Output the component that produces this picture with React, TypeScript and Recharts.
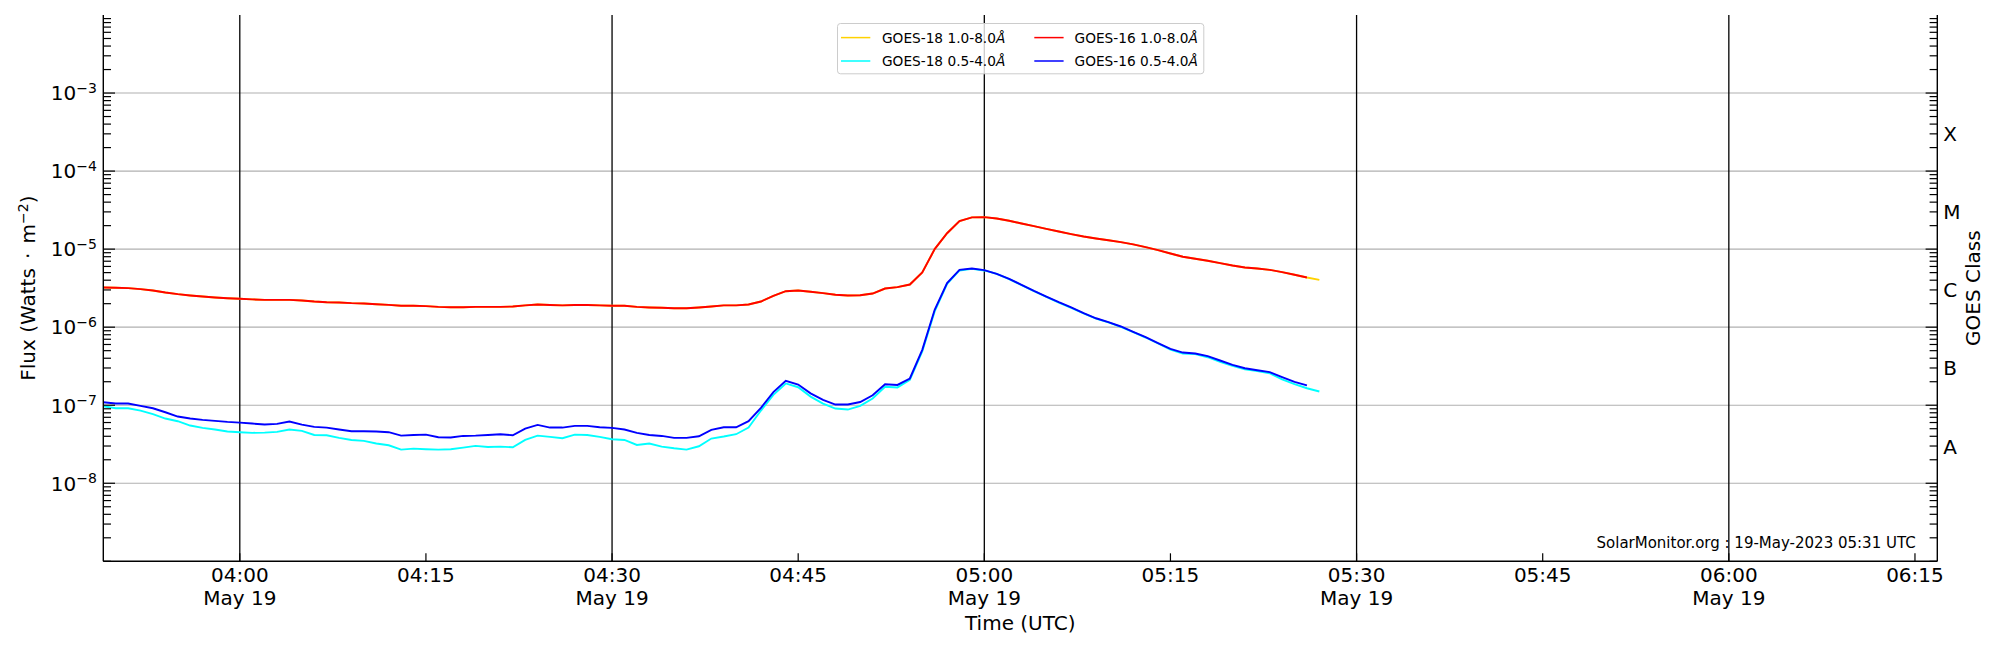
import React from 'react';
import { LineChart, Line, XAxis, YAxis, ReferenceLine, Legend } from 'recharts';

const FONT = '"DejaVu Sans", sans-serif';

// ---------- data (1-minute samples, UTC, 19 May 2023) ----------
const times = [
  '03:49', '03:50', '03:51', '03:52', '03:53', '03:54', '03:55', '03:56', '03:57', '03:58',
  '03:59', '04:00', '04:01', '04:02', '04:03', '04:04', '04:05', '04:06', '04:07', '04:08',
  '04:09', '04:10', '04:11', '04:12', '04:13', '04:14', '04:15', '04:16', '04:17', '04:18',
  '04:19', '04:20', '04:21', '04:22', '04:23', '04:24', '04:25', '04:26', '04:27', '04:28',
  '04:29', '04:30', '04:31', '04:32', '04:33', '04:34', '04:35', '04:36', '04:37', '04:38',
  '04:39', '04:40', '04:41', '04:42', '04:43', '04:44', '04:45', '04:46', '04:47', '04:48',
  '04:49', '04:50', '04:51', '04:52', '04:53', '04:54', '04:55', '04:56', '04:57', '04:58',
  '04:59', '05:00', '05:01', '05:02', '05:03', '05:04', '05:05', '05:06', '05:07', '05:08',
  '05:09', '05:10', '05:11', '05:12', '05:13', '05:14', '05:15', '05:16', '05:17', '05:18',
  '05:19', '05:20', '05:21', '05:22', '05:23', '05:24', '05:25', '05:26', '05:27',
];

const goes18Long = [
  3.23e-6, 3.20e-6, 3.16e-6, 3.07e-6, 2.95e-6, 2.78e-6, 2.65e-6, 2.55e-6, 2.47e-6, 2.40e-6,
  2.35e-6, 2.31e-6, 2.27e-6, 2.24e-6, 2.24e-6, 2.24e-6, 2.20e-6, 2.13e-6, 2.09e-6, 2.07e-6,
  2.03e-6, 2.01e-6, 1.97e-6, 1.93e-6, 1.88e-6, 1.88e-6, 1.86e-6, 1.82e-6, 1.80e-6, 1.80e-6,
  1.82e-6, 1.82e-6, 1.82e-6, 1.84e-6, 1.90e-6, 1.95e-6, 1.92e-6, 1.90e-6, 1.92e-6, 1.92e-6,
  1.90e-6, 1.88e-6, 1.88e-6, 1.82e-6, 1.79e-6, 1.77e-6, 1.75e-6, 1.75e-6, 1.79e-6, 1.84e-6,
  1.90e-6, 1.90e-6, 1.95e-6, 2.13e-6, 2.52e-6, 2.89e-6, 2.95e-6, 2.84e-6, 2.73e-6, 2.60e-6,
  2.55e-6, 2.57e-6, 2.70e-6, 3.13e-6, 3.26e-6, 3.52e-6, 5.02e-6, 1.00e-5, 1.60e-5, 2.29e-5,
  2.55e-5, 2.57e-5, 2.47e-5, 2.31e-5, 2.13e-5, 1.97e-5, 1.82e-5, 1.68e-5, 1.56e-5, 1.45e-5,
  1.37e-5, 1.30e-5, 1.23e-5, 1.15e-5, 1.06e-5, 9.71e-6, 8.80e-6, 7.98e-6, 7.52e-6, 7.09e-6,
  6.62e-6, 6.17e-6, 5.82e-6, 5.65e-6, 5.43e-6, 5.07e-6, 4.69e-6, 4.33e-6, 4.04e-6,
];

const goes18Short = [
  9.71e-8, 9.15e-8, 9.15e-8, 8.54e-8, 7.67e-8, 6.75e-8, 6.24e-8, 5.49e-8, 5.12e-8, 4.88e-8,
  4.60e-8, 4.51e-8, 4.42e-8, 4.46e-8, 4.55e-8, 4.88e-8, 4.69e-8, 4.16e-8, 4.12e-8, 3.81e-8,
  3.59e-8, 3.49e-8, 3.23e-8, 3.07e-8, 2.70e-8, 2.78e-8, 2.73e-8, 2.70e-8, 2.73e-8, 2.86e-8,
  3.01e-8, 2.92e-8, 2.95e-8, 2.89e-8, 3.59e-8, 4.08e-8, 3.93e-8, 3.78e-8, 4.20e-8, 4.16e-8,
  3.93e-8, 3.67e-8, 3.59e-8, 3.10e-8, 3.23e-8, 2.95e-8, 2.81e-8, 2.70e-8, 2.98e-8, 3.74e-8,
  3.97e-8, 4.25e-8, 5.17e-8, 8.54e-8, 1.36e-7, 1.90e-7, 1.70e-7, 1.29e-7, 1.05e-7, 9.06e-8,
  8.80e-8, 9.80e-8, 1.22e-7, 1.72e-7, 1.69e-7, 2.11e-7, 4.88e-7, 1.59e-6, 3.59e-6, 5.33e-6,
  5.59e-6, 5.33e-6, 4.83e-6, 4.12e-6, 3.46e-6, 2.89e-6, 2.45e-6, 2.07e-6, 1.77e-6, 1.50e-6,
  1.29e-6, 1.15e-6, 1.01e-6, 8.62e-7, 7.37e-7, 6.18e-7, 5.17e-7, 4.60e-7, 4.51e-7, 4.12e-7,
  3.59e-7, 3.20e-7, 2.89e-7, 2.73e-7, 2.57e-7, 2.15e-7, 1.86e-7, 1.65e-7, 1.50e-7,
];

const goes16Long = [
  3.23e-6, 3.20e-6, 3.16e-6, 3.07e-6, 2.95e-6, 2.78e-6, 2.65e-6, 2.55e-6, 2.47e-6, 2.40e-6,
  2.35e-6, 2.31e-6, 2.27e-6, 2.24e-6, 2.24e-6, 2.24e-6, 2.20e-6, 2.13e-6, 2.09e-6, 2.07e-6,
  2.03e-6, 2.01e-6, 1.97e-6, 1.93e-6, 1.88e-6, 1.88e-6, 1.86e-6, 1.82e-6, 1.80e-6, 1.80e-6,
  1.82e-6, 1.82e-6, 1.82e-6, 1.84e-6, 1.90e-6, 1.95e-6, 1.92e-6, 1.90e-6, 1.92e-6, 1.92e-6,
  1.90e-6, 1.88e-6, 1.88e-6, 1.82e-6, 1.79e-6, 1.77e-6, 1.75e-6, 1.75e-6, 1.79e-6, 1.84e-6,
  1.90e-6, 1.90e-6, 1.95e-6, 2.13e-6, 2.52e-6, 2.89e-6, 2.95e-6, 2.84e-6, 2.73e-6, 2.60e-6,
  2.55e-6, 2.57e-6, 2.70e-6, 3.13e-6, 3.26e-6, 3.52e-6, 5.02e-6, 1.00e-5, 1.60e-5, 2.29e-5,
  2.55e-5, 2.57e-5, 2.47e-5, 2.31e-5, 2.13e-5, 1.97e-5, 1.82e-5, 1.68e-5, 1.56e-5, 1.45e-5,
  1.37e-5, 1.30e-5, 1.23e-5, 1.15e-5, 1.06e-5, 9.71e-6, 8.80e-6, 7.98e-6, 7.52e-6, 7.09e-6,
  6.62e-6, 6.17e-6, 5.82e-6, 5.65e-6, 5.43e-6, 5.07e-6, 4.69e-6, 4.33e-6,
];

const goes16Short = [
  1.09e-7, 1.05e-7, 1.05e-7, 9.80e-8, 9.15e-8, 8.13e-8, 7.16e-8, 6.75e-8, 6.49e-8, 6.30e-8,
  6.11e-8, 5.99e-8, 5.82e-8, 5.65e-8, 5.76e-8, 6.17e-8, 5.65e-8, 5.27e-8, 5.17e-8, 4.88e-8,
  4.64e-8, 4.64e-8, 4.60e-8, 4.51e-8, 4.08e-8, 4.16e-8, 4.20e-8, 3.89e-8, 3.85e-8, 4.04e-8,
  4.08e-8, 4.16e-8, 4.25e-8, 4.12e-8, 5.02e-8, 5.59e-8, 5.17e-8, 5.17e-8, 5.43e-8, 5.43e-8,
  5.22e-8, 5.12e-8, 4.88e-8, 4.42e-8, 4.16e-8, 4.04e-8, 3.81e-8, 3.81e-8, 4.00e-8, 4.83e-8,
  5.22e-8, 5.22e-8, 6.24e-8, 9.24e-8, 1.47e-7, 2.05e-7, 1.84e-7, 1.42e-7, 1.17e-7, 1.02e-7,
  1.02e-7, 1.10e-7, 1.34e-7, 1.86e-7, 1.82e-7, 2.20e-7, 5.12e-7, 1.67e-6, 3.67e-6, 5.43e-6,
  5.65e-6, 5.38e-6, 4.83e-6, 4.16e-6, 3.49e-6, 2.92e-6, 2.47e-6, 2.09e-6, 1.79e-6, 1.51e-6,
  1.30e-6, 1.16e-6, 1.02e-6, 8.71e-7, 7.44e-7, 6.24e-7, 5.27e-7, 4.73e-7, 4.60e-7, 4.25e-7,
  3.74e-7, 3.29e-7, 2.98e-7, 2.81e-7, 2.65e-7, 2.29e-7, 1.99e-7, 1.80e-7,
];

const seriesKeys = ['g18l', 'g18s', 'g16l', 'g16s'];
const seriesNames = ['GOES-18 1.0-8.0Å', 'GOES-18 0.5-4.0Å', 'GOES-16 1.0-8.0Å', 'GOES-16 0.5-4.0Å'];
const seriesColors = ['#ffd200', '#00ffff', '#ff0000', '#0000ff'];

// ---------- axes ----------
const xTickTimes = ['04:00', '04:15', '04:30', '04:45', '05:00', '05:15', '05:30', '05:45', '06:00', '06:15'];
const xTickDates = ['May 19', '', 'May 19', '', 'May 19', '', 'May 19', '', 'May 19', ''];
const xHalfHourLines = ['04:00', '04:30', '05:00', '05:30', '06:00'];
const xLimits = ['03:49:00', '06:16:48'];

const fluxDecades = [1e-9, 1e-8, 1e-7, 1e-6, 1e-5, 1e-4, 1e-3];
const minorMultipliers = [1, 2, 3, 4, 5, 6, 7, 8, 9];
const gridDecades = [1e-8, 1e-7, 1e-6, 1e-5, 1e-4, 1e-3];
const gridExponents = ['−8', '−7', '−6', '−5', '−4', '−3'];
const yLimits = [1e-9, 1e-2];

const classLabels = ['A', 'B', 'C', 'M', 'X'];
const classCenters = [3.162e-8, 3.162e-7, 3.162e-6, 3.162e-5, 3.162e-4];

const watermark = 'SolarMonitor.org : 19-May-2023 05:31 UTC';

// ---------- derived structures ----------
const toMinutes = (s: string) => {
  const [h, m, sec] = s.split(':').map(Number);
  return h * 60 + m + (sec || 0) / 60;
};

const data = times.map((t, i) => ({
  t: toMinutes(t),
  g18l: goes18Long[i],
  g18s: goes18Short[i],
  g16l: goes16Long[i],
  g16s: goes16Short[i],
}));

const xTickValues = xTickTimes.map(toMinutes);
const xDomain = xLimits.map(toMinutes);
const minorTicks: number[] = [];
fluxDecades.forEach((d) => minorMultipliers.forEach((m) => minorTicks.push(m * d)));
const rightTicks = [...minorTicks, ...classCenters];

const same = (a: number, b: number) => Math.abs(a / b - 1) < 1e-6;

// ---------- custom ticks ----------
function LeftTick(props: any) {
  const { x, y, payload } = props;
  const v = payload.value;
  const gi = gridDecades.findIndex((d) => same(v, d));
  const major = gi >= 0;
  return (
    <g>
      <line x1={x} x2={x + (major ? 11.7 : 7.7)} y1={y} y2={y} stroke="#000" strokeWidth={1.2} />
      {major && (
        <text x={x - 6.5} y={y + 7.3} textAnchor="end" fontFamily={FONT} fontSize={20} fill="#000">
          10
          <tspan dy={-7.5} fontSize={14}>
            {gridExponents[gi]}
          </tspan>
        </text>
      )}
    </g>
  );
}

function RightTick(props: any) {
  const { x, y, payload } = props;
  const v = payload.value;
  const ci = classCenters.findIndex((c) => same(v, c));
  if (ci >= 0) {
    return (
      <text x={x + 6} y={y + 9.3} fontFamily={FONT} fontSize={20} fill="#000">
        {classLabels[ci]}
      </text>
    );
  }
  const major = gridDecades.some((d) => same(v, d));
  return <line x1={x} x2={x - (major ? 11.7 : 7.7)} y1={y} y2={y} stroke="#000" strokeWidth={1.2} />;
}

function BottomTick(props: any) {
  const { x, y, payload } = props;
  const i = xTickValues.findIndex((v) => Math.abs(v - payload.value) < 1e-6);
  return (
    <g>
      <line x1={x} x2={x} y1={y} y2={y - 8} stroke="#000" strokeWidth={1.2} />
      <text x={x} y={y + 20.4} textAnchor="middle" fontFamily={FONT} fontSize={20} fill="#000">
        {xTickTimes[i]}
      </text>
      {xTickDates[i] ? (
        <text x={x} y={y + 43.6} textAnchor="middle" fontFamily={FONT} fontSize={20} fill="#000">
          {xTickDates[i]}
        </text>
      ) : null}
    </g>
  );
}

// ---------- axis labels ----------
const leftLabel = (p: any) => {
  const vb = p.viewBox || { x: 0, y: 15, width: 103, height: 546 };
  const cx = vb.x + 35.3;
  const cy = vb.y + vb.height / 2;
  return (
    <text x={cx} y={cy} transform={`rotate(-90, ${cx}, ${cy})`} textAnchor="middle" fontFamily={FONT} fontSize={20} fill="#000">
      Flux (Watts
      <tspan dx={2.8}> · </tspan>
      <tspan dx={2.8}>m</tspan>
      <tspan dy={-7.5} fontSize={14}>
        −2
      </tspan>
      <tspan dy={7.5}>)</tspan>
    </text>
  );
};

const rightLabel = (p: any) => {
  const vb = p.viewBox || { x: 1937, y: 15, width: 63, height: 546 };
  const cx = vb.x + 42.7;
  const cy = vb.y + vb.height / 2;
  return (
    <text x={cx} y={cy} transform={`rotate(-90, ${cx}, ${cy})`} textAnchor="middle" fontFamily={FONT} fontSize={20} fill="#000">
      GOES Class
    </text>
  );
};

const bottomLabel = (p: any) => {
  const vb = p.viewBox || { x: 103, y: 561, width: 1834, height: 89 };
  return (
    <g>
      <text x={vb.x + vb.width / 2} y={vb.y + 69} textAnchor="middle" fontFamily={FONT} fontSize={20} fill="#000">
        Time (UTC)
      </text>
      <text x={vb.x + vb.width - 21.6} y={vb.y - 13} textAnchor="end" fontFamily={FONT} fontSize={15} fill="#000">
        {watermark}
      </text>
    </g>
  );
};

// ---------- legend ----------
const renderLegend = (props: any) => {
  const payload: any[] = props.payload || [];
  const items = seriesNames.map((n, i) => {
    const found = payload.find((p) => p.value === n);
    return { name: n, color: found ? found.color : seriesColors[i] };
  });
  const colHandleX = [4, 197.3];
  const colTextX = [45, 237.6];
  const rowY = [14.6, 38];
  return (
    <svg width={368} height={52} style={{ display: 'block', overflow: 'visible' }}>
      <rect x={0.5} y={0.5} width={366.3} height={50.3} rx={3} ry={3} fill="rgba(255,255,255,0.8)" stroke="#cccccc" strokeWidth={1} />
      {items.map((it, i) => {
        const c = Math.floor(i / 2);
        const r = i % 2;
        const base = it.name.slice(0, -1);
        const unit = it.name.slice(-1);
        return (
          <g key={it.name}>
            <line x1={colHandleX[c]} x2={colHandleX[c] + 29.3} y1={rowY[r]} y2={rowY[r]} stroke={it.color} strokeWidth={1.5} />
            <text x={colTextX[c]} y={rowY[r] + 5} fontFamily={FONT} fontSize={13.7} fill="#000">
              {base}
              <tspan fontStyle="italic">{unit}</tspan>
            </text>
          </g>
        );
      })}
    </svg>
  );
};

export default function App() {
  return (
    <div style={{ width: 2000, height: 650 }}>
      <style>{'body{margin:0;}'}</style>
      <LineChart width={2000} height={650} data={data} margin={{ top: 15, right: 0, bottom: 0, left: 0 }} style={{ fontFamily: FONT }}>
        <XAxis
          xAxisId="bottom"
          dataKey="t"
          type="number"
          domain={xDomain}
          allowDataOverflow
          ticks={xTickValues}
          interval={0}
          height={88.7}
          tickSize={0}
          tickMargin={0}
          tickLine={false}
          axisLine={{ stroke: '#000', strokeWidth: 1.4 }}
          tick={(p: any) => <BottomTick {...p} />}
          label={bottomLabel}
        />
        <XAxis
          xAxisId="top"
          orientation="top"
          type="number"
          domain={xDomain}
          allowDataOverflow
          height={0}
          tick={false}
          tickLine={false}
          axisLine={{ stroke: '#000', strokeWidth: 1.4 }}
        />
        <YAxis
          yAxisId="left"
          scale="log"
          type="number"
          domain={yLimits}
          allowDataOverflow
          ticks={minorTicks}
          interval={0}
          width={103.3}
          tickSize={0}
          tickMargin={0}
          tickLine={false}
          axisLine={{ stroke: '#000', strokeWidth: 1.4 }}
          tick={(p: any) => <LeftTick {...p} />}
          label={leftLabel}
        />
        <YAxis
          yAxisId="right"
          orientation="right"
          scale="log"
          type="number"
          domain={yLimits}
          allowDataOverflow
          ticks={rightTicks}
          interval={0}
          width={62.7}
          tickSize={0}
          tickMargin={0}
          tickLine={false}
          axisLine={{ stroke: '#000', strokeWidth: 1.4 }}
          tick={(p: any) => <RightTick {...p} />}
          label={rightLabel}
        />
        {gridDecades.map((d) => (
          <ReferenceLine key={`h${d}`} xAxisId="bottom" yAxisId="left" y={d} stroke="#b0b0b0" strokeWidth={1.1} />
        ))}
        {xHalfHourLines.map((t) => (
          <ReferenceLine key={`v${t}`} xAxisId="bottom" yAxisId="left" x={toMinutes(t)} stroke="#000" strokeWidth={1.3} />
        ))}
        {seriesKeys.map((k, i) => (
          <Line
            key={k}
            xAxisId="bottom"
            yAxisId="left"
            type="linear"
            dataKey={k}
            name={seriesNames[i]}
            stroke={seriesColors[i]}
            strokeWidth={1.9}
            dot={false}
            activeDot={false}
            isAnimationActive={false}
          />
        ))}
        <Legend
          layout="horizontal"
          verticalAlign="middle"
          align="center"
          content={renderLegend}
          wrapperStyle={{ left: 836.7, top: 22.7, width: 368, height: 52 }}
        />
      </LineChart>
    </div>
  );
}
